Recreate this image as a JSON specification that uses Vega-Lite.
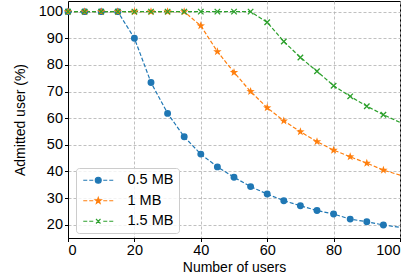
{
  "$schema": "https://vega.github.io/schema/vega-lite/v6.json",
  "width": 332,
  "height": 237,
  "autosize": {"type": "none"},
  "padding": {"left": 68, "top": 1, "right": 15, "bottom": 40},
  "background": "white",
  "config": {
    "font": "Liberation Sans",
    "view": {"stroke": "black", "strokeWidth": 1},
    "axis": {
      "grid": true,
      "gridColor": "#b0b0b0",
      "gridDash": [3, 2],
      "gridWidth": 0.8,
      "domainColor": "black",
      "tickColor": "black",
      "tickSize": 3.5,
      "labelColor": "black",
      "labelFontSize": 14.5,
      "titleFontSize": 14,
      "titleFontWeight": "normal",
      "titleColor": "black",
      "labelPadding": 2
    },
    "legend": {
      "orient": "none",
      "legendX": 8,
      "legendY": 167,
      "symbolSize": 100,
      "symbolStrokeWidth": 1.1,
      "labelFontSize": 14.5,
      "labelColor": "black",
      "labelOffset": 32,
      "padding": 5,
      "rowPadding": 5.5,
      "fillColor": "rgba(255,255,255,0.8)",
      "strokeColor": "#cccccc",
      "cornerRadius": 3
    }
  },
  "data": {
    "values": [
      {"users": 0, "admitted": 100, "series": "0.5 MB"},
      {"users": 5, "admitted": 100, "series": "0.5 MB"},
      {"users": 10, "admitted": 100, "series": "0.5 MB"},
      {"users": 15, "admitted": 100, "series": "0.5 MB"},
      {"users": 20, "admitted": 90, "series": "0.5 MB"},
      {"users": 25, "admitted": 73.4, "series": "0.5 MB"},
      {"users": 30, "admitted": 61.8, "series": "0.5 MB"},
      {"users": 35, "admitted": 53, "series": "0.5 MB"},
      {"users": 40, "admitted": 46.5, "series": "0.5 MB"},
      {"users": 45, "admitted": 41.7, "series": "0.5 MB"},
      {"users": 50, "admitted": 37.8, "series": "0.5 MB"},
      {"users": 55, "admitted": 34.3, "series": "0.5 MB"},
      {"users": 60, "admitted": 31.5, "series": "0.5 MB"},
      {"users": 65, "admitted": 29, "series": "0.5 MB"},
      {"users": 70, "admitted": 27.1, "series": "0.5 MB"},
      {"users": 75, "admitted": 25.3, "series": "0.5 MB"},
      {"users": 80, "admitted": 24, "series": "0.5 MB"},
      {"users": 85, "admitted": 22.1, "series": "0.5 MB"},
      {"users": 90, "admitted": 21.1, "series": "0.5 MB"},
      {"users": 95, "admitted": 19.9, "series": "0.5 MB"},
      {"users": 100, "admitted": 19, "series": "0.5 MB"},
      {"users": 0, "admitted": 100, "series": "1 MB"},
      {"users": 5, "admitted": 100, "series": "1 MB"},
      {"users": 10, "admitted": 100, "series": "1 MB"},
      {"users": 15, "admitted": 100, "series": "1 MB"},
      {"users": 20, "admitted": 100, "series": "1 MB"},
      {"users": 25, "admitted": 100, "series": "1 MB"},
      {"users": 30, "admitted": 100, "series": "1 MB"},
      {"users": 35, "admitted": 100, "series": "1 MB"},
      {"users": 40, "admitted": 94.7, "series": "1 MB"},
      {"users": 45, "admitted": 85, "series": "1 MB"},
      {"users": 50, "admitted": 77.2, "series": "1 MB"},
      {"users": 55, "admitted": 70, "series": "1 MB"},
      {"users": 60, "admitted": 63.9, "series": "1 MB"},
      {"users": 65, "admitted": 59, "series": "1 MB"},
      {"users": 70, "admitted": 54.9, "series": "1 MB"},
      {"users": 75, "admitted": 51.2, "series": "1 MB"},
      {"users": 80, "admitted": 48, "series": "1 MB"},
      {"users": 85, "admitted": 45.5, "series": "1 MB"},
      {"users": 90, "admitted": 43.1, "series": "1 MB"},
      {"users": 95, "admitted": 40.5, "series": "1 MB"},
      {"users": 100, "admitted": 38.6, "series": "1 MB"},
      {"users": 0, "admitted": 100, "series": "1.5 MB"},
      {"users": 5, "admitted": 100, "series": "1.5 MB"},
      {"users": 10, "admitted": 100, "series": "1.5 MB"},
      {"users": 15, "admitted": 100, "series": "1.5 MB"},
      {"users": 20, "admitted": 100, "series": "1.5 MB"},
      {"users": 25, "admitted": 100, "series": "1.5 MB"},
      {"users": 30, "admitted": 100, "series": "1.5 MB"},
      {"users": 35, "admitted": 100, "series": "1.5 MB"},
      {"users": 40, "admitted": 100, "series": "1.5 MB"},
      {"users": 45, "admitted": 100, "series": "1.5 MB"},
      {"users": 50, "admitted": 100, "series": "1.5 MB"},
      {"users": 55, "admitted": 100, "series": "1.5 MB"},
      {"users": 60, "admitted": 96, "series": "1.5 MB"},
      {"users": 65, "admitted": 88.8, "series": "1.5 MB"},
      {"users": 70, "admitted": 82.8, "series": "1.5 MB"},
      {"users": 75, "admitted": 77.6, "series": "1.5 MB"},
      {"users": 80, "admitted": 72.2, "series": "1.5 MB"},
      {"users": 85, "admitted": 68.2, "series": "1.5 MB"},
      {"users": 90, "admitted": 64.5, "series": "1.5 MB"},
      {"users": 95, "admitted": 61.3, "series": "1.5 MB"},
      {"users": 100, "admitted": 58.4, "series": "1.5 MB"}
    ]
  },
  "encoding": {
    "x": {
      "field": "users",
      "type": "quantitative",
      "title": "Number of users",
      "scale": {"domain": [0, 100], "nice": false, "zero": false},
      "axis": {"values": [0, 20, 40, 60, 80, 100], "titlePadding": 3}
    },
    "y": {
      "field": "admitted",
      "type": "quantitative",
      "title": "Admitted user (%)",
      "scale": {"domain": [15, 104], "nice": false, "zero": false},
      "axis": {"values": [20, 30, 40, 50, 60, 70, 80, 90, 100], "titlePadding": 11}
    }
  },
  "layer": [
    {
      "mark": {"type": "line", "strokeDash": [4, 2], "strokeWidth": 1.2},
      "encoding": {
        "color": {
          "field": "series",
          "type": "nominal",
          "scale": {"range": ["#1f77b4", "#ff7f0e", "#2ca02c"]},
          "legend": null
        }
      }
    },
    {
      "transform": [{"filter": "datum.series === '0.5 MB' && datum.users < 100"}],
      "mark": {"type": "point", "filled": true, "opacity": 1, "shape": "circle", "size": 48},
      "encoding": {"color": {"field": "series", "type": "nominal", "legend": null}}
    },
    {
      "transform": [{"filter": "datum.series === '1 MB' && datum.users < 100"}],
      "mark": {"type": "point", "filled": true, "opacity": 1, "size": 78, "shape": "M0,-1L0.235,-0.324L0.951,-0.309L0.38,0.124L0.588,0.809L0,0.4L-0.588,0.809L-0.38,0.124L-0.951,-0.309L-0.235,-0.324Z"},
      "encoding": {"color": {"field": "series", "type": "nominal", "legend": null}}
    },
    {
      "transform": [{"filter": "datum.series === '1.5 MB' && datum.users < 100"}],
      "mark": {"type": "point", "filled": false, "opacity": 1, "size": 30, "strokeWidth": 1.3, "shape": "M-1,-1L1,1M-1,1L1,-1"},
      "encoding": {"color": {"field": "series", "type": "nominal", "legend": null}}
    },
    {
      "transform": [{"filter": "datum.users < 0"}],
      "mark": {"type": "point", "filled": true, "opacity": 1, "strokeWidth": 1.1},
      "encoding": {
        "fill": {
          "field": "series",
          "type": "nominal",
          "scale": {"domain": ["0.5 MB", "1 MB", "1.5 MB"], "range": ["#1f77b4", "#ff7f0e", "#2ca02c"]},
          "legend": {"title": null}
        },
        "stroke": {
          "field": "series",
          "type": "nominal",
          "scale": {"domain": ["0.5 MB", "1 MB", "1.5 MB"], "range": ["#1f77b4", "#ff7f0e", "#2ca02c"]},
          "legend": {"title": null}
        },
        "shape": {
          "field": "series",
          "type": "nominal",
          "scale": {
            "domain": ["0.5 MB", "1 MB", "1.5 MB"],
            "range": [
              "M-1,0H-0.2M0.2,0H1M3,0H3.8M4.2,0H5M2.6,0A0.6,0.6 0 1,1 1.4,0A0.6,0.6 0 1,1 2.6,0Z",
              "M-1,0H-0.2M0.2,0H1M3,0H3.8M4.2,0H5M2,-0.65L2.15,-0.21L2.62,-0.2L2.25,0.08L2.38,0.53L2,0.26L1.62,0.53L1.75,0.08L1.38,-0.2L1.85,-0.21Z",
              "M-1,0H-0.2M0.2,0H1M3,0H3.8M4.2,0H5M1.55,-0.45L2.45,0.45M1.55,0.45L2.45,-0.45"
            ]
          },
          "legend": {"title": null}
        }
      }
    }
  ]
}
